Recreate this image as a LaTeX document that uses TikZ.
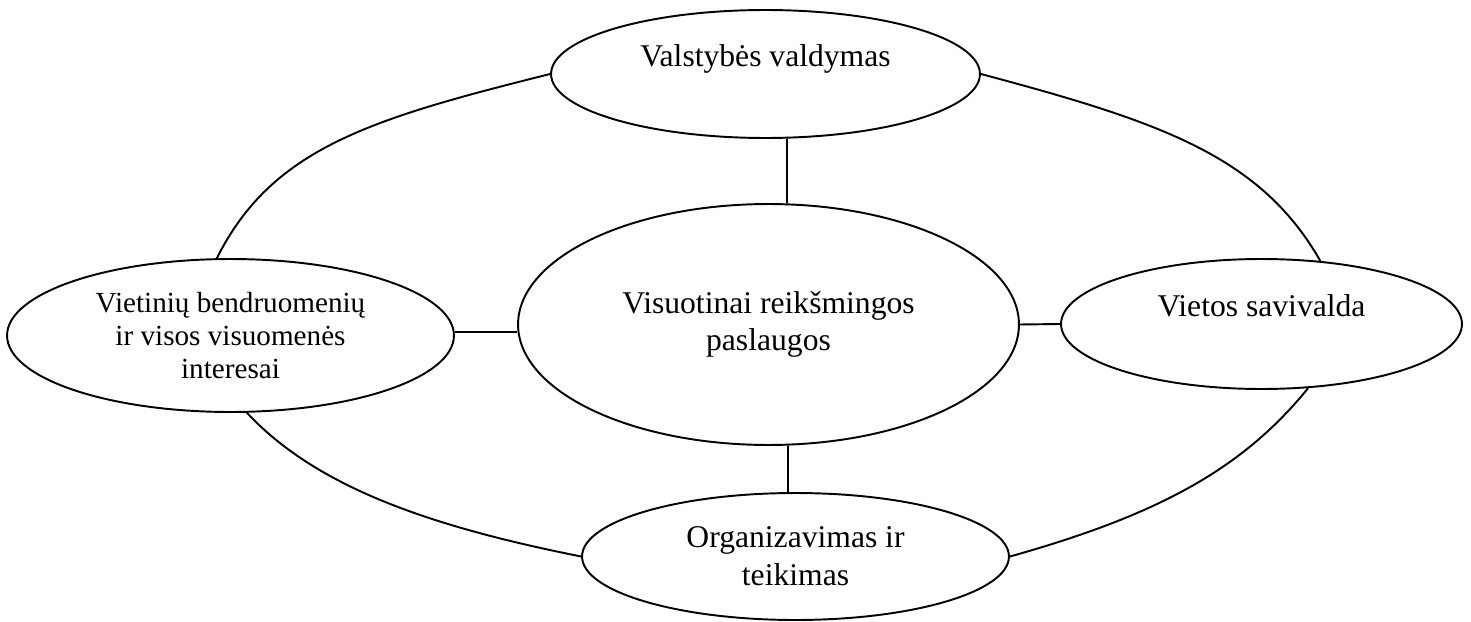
\documentclass[tikz,border=0pt]{standalone}
\usepackage{fontspec}
\setmainfont{Liberation Serif}
\usetikzlibrary{shapes.geometric}
\begin{document}
\begin{tikzpicture}[x=0.02cm, y=-0.02cm, line width=1.1pt,
    oval/.style={ellipse, draw, inner sep=0pt, align=center,
      font=\fontsize{18}{21.5}\selectfont}]
    \useasboundingbox (0,0) rectangle (1471,622);
    % Center and the four surrounding ellipses
    \node[oval, minimum width=10.02cm, minimum height=4.82cm] (paslaugos) at (768.5,324.5) {Visuotinai reikšmingos\\paslaugos};
    \node[oval, minimum width=8.58cm, minimum height=2.56cm] (valdymas) at (765.5,74) {Valstybės valdymas\\\mbox{}};
    \node[oval, minimum width=8.02cm, minimum height=2.6cm] (savivalda) at (1261.5,324) {Vietos savivalda\\\mbox{}};
    \node[oval, minimum width=8.54cm, minimum height=2.54cm] (organizavimas) at (795.5,556.5) {Organizavimas ir\\teikimas};
    \node[oval, minimum width=8.94cm, minimum height=3.06cm, font=\fontsize{16.6}{18.8}\selectfont, yshift=-0.07cm] (interesai) at (230.5,332) {Vietinių bendruomenių\\ir visos visuomenės\\interesai};
    % Spokes to the center
    \draw ([xshift=0.43cm]valdymas.south) -- ([xshift=0.37cm]paslaugos.north);
    \draw ([xshift=0.39cm]paslaugos.south) -- ([xshift=-0.15cm]organizavimas.north);
    \draw ([yshift=0.07cm]interesai.east) -- ([yshift=0.07cm]interesai.east -| paslaugos.west);
    \draw (paslaugos.east) -- (savivalda.west);
    % Outer ring
    \draw (valdymas.west) .. controls +(-180,45) and +(55,-110) .. (interesai.100);
    \draw (valdymas.east) .. controls +(180,48) and +(-60,-105) .. (savivalda.47);
    \draw (interesai.-78) .. controls +(70,75) and +(-150,-30) .. (organizavimas.west);
    \draw (savivalda.-54) .. controls +(-65,80) and +(150,-42) .. (organizavimas.east);
  \end{tikzpicture}
\end{document}
